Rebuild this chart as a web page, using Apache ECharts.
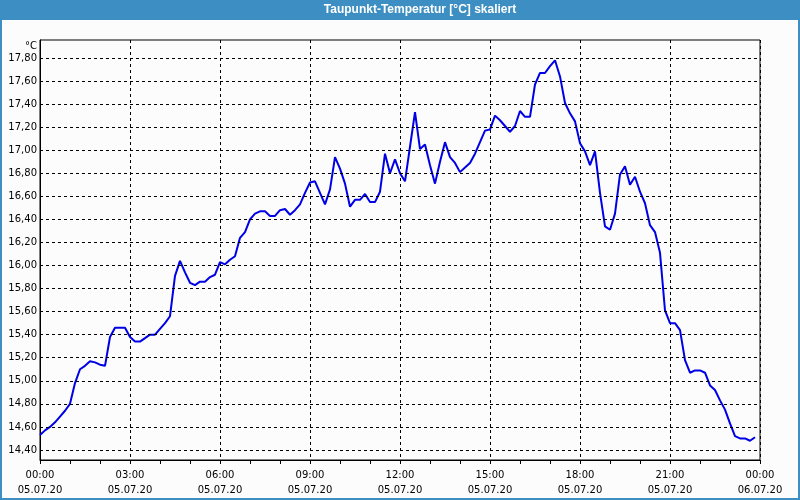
<!DOCTYPE html>
<html>
<head>
<meta charset="utf-8">
<script src="https://cdn.jsdelivr.net/npm/echarts@6/dist/echarts.min.js"></script>
<style>html,body{margin:0;padding:0;background:#fff}#c{width:800px;height:500px}</style>
</head>
<body>
<div id="c"></div>
<script>
const titleText = 'Taupunkt-Temperatur [°C] skaliert';
const unitText = '°C';
const stepMinutes = 10;
const xTickLabels = ['00:00\n05.07.20','03:00\n05.07.20','06:00\n05.07.20','09:00\n05.07.20','12:00\n05.07.20','15:00\n05.07.20','18:00\n05.07.20','21:00\n05.07.20','00:00\n06.07.20'];
const yTicks = [14.4,14.6,14.8,15.0,15.2,15.4,15.6,15.8,16.0,16.2,16.4,16.6,16.8,17.0,17.2,17.4,17.6,17.8];
const values = [
14.53,14.57,14.60,14.64,14.69,14.74,14.80,14.98,15.10,15.13,15.17,15.16,
15.14,15.13,15.38,15.46,15.46,15.46,15.38,15.34,15.34,15.37,15.40,15.40,
15.45,15.50,15.56,15.91,16.04,15.94,15.85,15.83,15.86,15.86,15.90,15.92,
16.03,16.01,16.05,16.08,16.24,16.29,16.40,16.45,16.47,16.47,16.43,16.43,
16.48,16.49,16.44,16.48,16.53,16.63,16.72,16.73,16.63,16.53,16.66,16.94,
16.84,16.71,16.51,16.57,16.57,16.62,16.55,16.55,16.64,16.97,16.80,16.92,
16.80,16.73,17.03,17.33,17.01,17.05,16.87,16.71,16.90,17.07,16.94,16.89,
16.81,16.85,16.89,16.97,17.07,17.17,17.18,17.30,17.26,17.21,17.16,17.21,
17.34,17.29,17.29,17.57,17.67,17.67,17.73,17.78,17.64,17.41,17.32,17.25,
17.06,16.99,16.87,16.99,16.63,16.34,16.31,16.45,16.79,16.86,16.70,16.77,
16.64,16.54,16.35,16.29,16.11,15.61,15.50,15.50,15.44,15.18,15.07,15.09,
15.09,15.07,14.96,14.92,14.83,14.75,14.63,14.52,14.50,14.50,14.48,14.51
];

const chart = echarts.init(document.getElementById('c'), null, {renderer:'canvas'});
const fmt = v => v.toFixed(2).replace('.', ',');
chart.setOption({
  animation: false,
  backgroundColor: '#fbfcfb',
  textStyle: {fontFamily: 'DejaVu Sans', fontSize: 10, color: '#000'},
  graphic: [
    {type:'rect', shape:{x:0,y:0,width:800,height:20}, style:{fill:'#3d8fc3'}, z:10},
    {type:'rect', shape:{x:1,y:1,width:798,height:498}, style:{fill:null, stroke:'#3d8fc3', lineWidth:2}, z:10},
    {type:'text', x:420, y:10, style:{text:titleText, fill:'#fff', font:'bold 12px "Liberation Sans"', textAlign:'center', textVerticalAlign:'middle'}, z:11},
    {type:'text', x:37, y:46, style:{text:unitText, fill:'#000', font:'10px "DejaVu Sans"', textAlign:'right', textVerticalAlign:'middle'}, z:11}
  ],
  grid: {left:40, right:40, top:40, bottom:40, show:true, borderColor:'#000', borderWidth:1, backgroundColor:'transparent'},
  xAxis: {
    type:'value', min:0, max:1440, interval:180,
    axisLine:{show:true, lineStyle:{color:'#000', width:1}},
    axisTick:{show:true, length:4, lineStyle:{color:'#000'}},
    minorTick:{show:true, splitNumber:3, length:4, lineStyle:{color:'#000'}},
    splitLine:{show:true, lineStyle:{color:'#000', type:[3,3], width:1}},
    axisLabel:{margin:8, lineHeight:15, color:'#000', fontFamily:'DejaVu Sans', fontSize:10,
      formatter: v => xTickLabels[Math.round(v/180)] || ''}
  },
  yAxis: {
    type:'value', min:14.313, max:17.956,
    axisLine:{show:true, lineStyle:{color:'#000'}},
    axisTick:{show:false}, axisLabel:{show:false}, splitLine:{show:false}
  },
  series: [
    {
      type:'line', data:[], z:1, silent:true,
      markLine:{
        silent:true, symbol:['none','none'], animation:false,
        lineStyle:{color:'#000', type:[3,3], width:1},
        label:{show:true, position:'start', distance:3, color:'#000', fontFamily:'DejaVu Sans', fontSize:10,
          formatter: p => fmt(p.value)},
        emphasis:{disabled:true},
        data: yTicks.map(v => ({yAxis:v}))
      }
    },
    {
      type:'line', z:3, showSymbol:false, symbol:'none',
      lineStyle:{color:'#0000e6', width:2},
      data: values.map((v,i) => [i*stepMinutes, v])
    }
  ]
});
</script>
</body>
</html>
